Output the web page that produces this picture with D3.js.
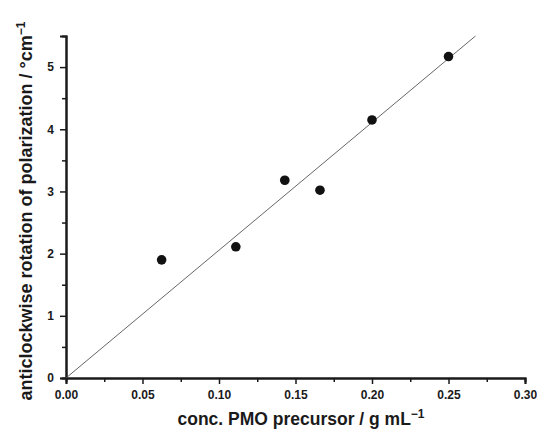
<!DOCTYPE html>
<html>
<head>
<meta charset="utf-8">
<script src="https://cdn.jsdelivr.net/npm/d3@7"></script>
<style>
  body { margin: 0; background: #fff; }
  svg { display: block; }
  text { font-family: "Liberation Sans", Arial, sans-serif; font-weight: bold; fill: #1a1a1a; }
</style>
</head>
<body>
<div id="chart"></div>
<script>
document.addEventListener("DOMContentLoaded", function() {
  const conc = [0.0625, 0.111, 0.143, 0.166, 0.200, 0.250];
  const rotation = [1.90, 2.11, 3.18, 3.02, 4.15, 5.17];
  const fitSlope = 20.55;
  const xTicks = [0, 0.05, 0.10, 0.15, 0.20, 0.25, 0.30];
  const yTicks = [0, 1, 2, 3, 4, 5];

  const W = 537, H = 432;
  const m = { left: 66, right: 12, top: 36, bottom: 54 };

  const svg = d3.select('#chart').append('svg')
    .attr('width', W).attr('height', H);

  const x = d3.scaleLinear().domain([0, 0.30]).range([m.left, W - m.right]);
  const y = d3.scaleLinear().domain([0, 5.5]).range([H - m.bottom, m.top]);

  // minor ticks first, majors on top
  const xAxisMinor = d3.axisBottom(x).tickValues(d3.range(0.025, 0.30, 0.05)).tickSize(4).tickFormat('');
  const yAxisMinor = d3.axisLeft(y).tickValues(d3.range(0.5, 5.5, 1)).tickSize(4).tickFormat('');

  const gx = svg.append('g').attr('transform', `translate(0,${y(0)})`);
  gx.append('g').call(xAxisMinor);
  gx.append('g').call(d3.axisBottom(x).tickValues(xTicks).tickSize(6).tickPadding(6)
    .tickFormat(d3.format('.2f')));

  const gy = svg.append('g').attr('transform', `translate(${x(0)},0)`);
  gy.append('g').call(yAxisMinor);
  gy.append('g').call(d3.axisLeft(y).tickValues(yTicks).tickSize(6).tickPadding(6)
    .tickFormat(d3.format('d')));

  svg.selectAll('.domain').attr('stroke', '#1a1a1a').attr('stroke-width', 2);
  svg.selectAll('.tick line').attr('stroke', '#1a1a1a').attr('stroke-width', 1.5);
  svg.selectAll('.tick text').style('font-size', '12px').attr('fill', '#1a1a1a');

  // linear fit through the origin
  const xEnd = 5.5 / fitSlope;
  svg.append('line')
    .attr('x1', x(0)).attr('y1', y(0))
    .attr('x2', x(xEnd)).attr('y2', y(fitSlope * xEnd))
    .attr('stroke', '#555').attr('stroke-width', 0.9);

  svg.selectAll('circle')
    .data(conc)
    .enter()
      .append('circle')
      .attr('cx', d => x(d))
      .attr('cy', (d, i) => y(rotation[i]))
      .attr('r', 4.8)
      .attr('fill', '#111');

  // axis titles
  const xl = svg.append('text')
    .attr('x', 301).attr('y', 425)
    .attr('text-anchor', 'middle')
    .style('font-size', '17.5px');
  xl.append('tspan').text('conc. PMO precursor / g mL');
  xl.append('tspan').attr('dy', -7).style('font-size', '12px').text('\u22121');

  const yl = svg.append('text')
    .attr('transform', 'translate(32,211) rotate(-90)')
    .attr('text-anchor', 'middle')
    .style('font-size', '18px');
  yl.append('tspan').text('anticlockwise rotation of polarization / \u00b0cm');
  yl.append('tspan').attr('dy', -7).style('font-size', '12px').text('\u22121');
});
</script>
</body>
</html>
